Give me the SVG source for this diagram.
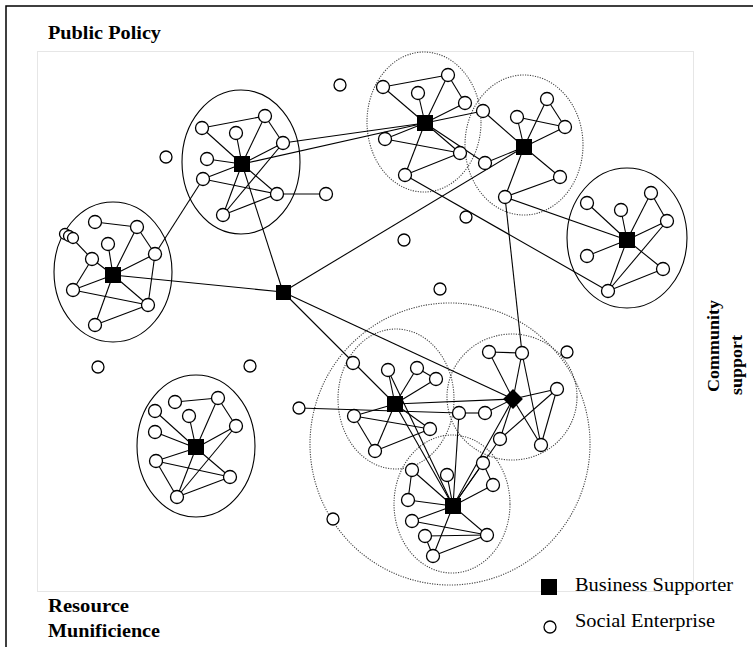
<svg xmlns="http://www.w3.org/2000/svg" width="753" height="647" viewBox="0 0 753 647">
<style>
.e line{stroke:#000;stroke-width:1.1}
.c circle{fill:#fff;stroke:#000;stroke-width:1.3}
.s rect{fill:#000}
.el{fill:none;stroke:#000;stroke-width:1.1}
.dl{fill:none;stroke:#444;stroke-width:1.1;stroke-dasharray:1.2 1.3}
.t{font-family:"Liberation Serif",serif;fill:#000}
.b{font-weight:bold}
</style>
<rect width="753" height="647" fill="#fff"/>
<path d="M6,647 V6 H753" fill="none" stroke="#000" stroke-width="1.5"/>
<rect x="37.5" y="51.5" width="656" height="540" fill="none" stroke="#ccc" stroke-width="1" stroke-dasharray="1 1"/>
<g id="boundaries">
<ellipse class="el" cx="113" cy="272" rx="59" ry="70"/>
<ellipse class="el" cx="241" cy="162" rx="59" ry="72"/>
<ellipse class="dl" cx="424" cy="122" rx="57" ry="70"/>
<ellipse class="dl" cx="524" cy="145" rx="59" ry="70"/>
<ellipse class="el" cx="627" cy="238" rx="60" ry="70"/>
<ellipse class="el" cx="196" cy="446" rx="59" ry="71"/>
<ellipse class="dl" cx="450" cy="444" rx="140" ry="141"/>
<ellipse class="dl" cx="396" cy="399" rx="58" ry="70"/>
<ellipse class="dl" cx="512" cy="397" rx="65" ry="63"/>
<ellipse class="dl" cx="452" cy="504" rx="58" ry="69"/>
</g>
<g id="connectors" class="e">
<!-- cluster A -->
<line x1="95" y1="222" x2="137" y2="227"/><line x1="137" y1="227" x2="155" y2="254"/><line x1="137" y1="227" x2="113" y2="275"/>
<line x1="108" y1="244" x2="113" y2="275"/><line x1="155" y1="254" x2="113" y2="275"/><line x1="92" y1="259" x2="113" y2="275"/>
<line x1="70" y1="236" x2="92" y2="259"/><line x1="92" y1="259" x2="73" y2="290"/><line x1="73" y1="290" x2="113" y2="275"/>
<line x1="73" y1="290" x2="148" y2="305"/><line x1="148" y1="305" x2="113" y2="275"/><line x1="148" y1="305" x2="155" y2="254"/>
<line x1="95" y1="325" x2="113" y2="275"/><line x1="95" y1="325" x2="148" y2="305"/>
<!-- cluster B -->
<line x1="202" y1="128" x2="265" y2="116"/><line x1="202" y1="128" x2="242" y2="164"/><line x1="265" y1="116" x2="242" y2="164"/>
<line x1="265" y1="116" x2="283" y2="143"/><line x1="236" y1="133" x2="242" y2="164"/><line x1="283" y1="143" x2="242" y2="164"/>
<line x1="207" y1="159" x2="242" y2="164"/><line x1="203" y1="179" x2="242" y2="164"/><line x1="203" y1="179" x2="277" y2="194"/>
<line x1="277" y1="194" x2="326" y2="194"/><line x1="277" y1="194" x2="242" y2="164"/><line x1="223" y1="215" x2="242" y2="164"/>
<line x1="223" y1="215" x2="277" y2="194"/><line x1="223" y1="215" x2="283" y2="143"/>
<!-- cluster C -->
<line x1="383" y1="87" x2="448" y2="75"/><line x1="383" y1="87" x2="425" y2="123"/><line x1="448" y1="75" x2="425" y2="123"/>
<line x1="448" y1="75" x2="465" y2="103"/><line x1="418" y1="93" x2="425" y2="123"/><line x1="465" y1="103" x2="425" y2="123"/>
<line x1="385" y1="139" x2="425" y2="123"/><line x1="385" y1="139" x2="460" y2="153"/><line x1="460" y1="153" x2="425" y2="123"/>
<line x1="405" y1="175" x2="425" y2="123"/><line x1="405" y1="175" x2="460" y2="153"/><line x1="425" y1="123" x2="483" y2="111"/>
<line x1="425" y1="123" x2="485" y2="163"/>
<!-- cluster D -->
<line x1="483" y1="111" x2="524" y2="147"/><line x1="547" y1="99" x2="565" y2="127"/><line x1="547" y1="99" x2="524" y2="147"/>
<line x1="517" y1="117" x2="524" y2="147"/><line x1="517" y1="117" x2="565" y2="127"/><line x1="565" y1="127" x2="524" y2="147"/>
<line x1="485" y1="163" x2="524" y2="147"/><line x1="560" y1="177" x2="524" y2="147"/><line x1="505" y1="197" x2="524" y2="147"/>
<line x1="505" y1="197" x2="560" y2="177"/>
<!-- cluster E -->
<line x1="587" y1="203" x2="627" y2="240"/><line x1="621" y1="210" x2="627" y2="240"/><line x1="651" y1="193" x2="627" y2="240"/>
<line x1="651" y1="193" x2="667" y2="221"/><line x1="667" y1="221" x2="627" y2="240"/><line x1="587" y1="256" x2="627" y2="240"/>
<line x1="663" y1="269" x2="627" y2="240"/><line x1="608" y1="291" x2="627" y2="240"/><line x1="608" y1="291" x2="663" y2="269"/>
<line x1="608" y1="291" x2="667" y2="221"/>
<!-- cluster I -->
<line x1="175" y1="402" x2="218" y2="398"/><line x1="218" y1="398" x2="236" y2="426"/><line x1="218" y1="398" x2="196" y2="448"/>
<line x1="155" y1="411" x2="196" y2="448"/><line x1="189" y1="416" x2="196" y2="448"/><line x1="236" y1="426" x2="196" y2="448"/>
<line x1="155" y1="432" x2="196" y2="448"/><line x1="156" y1="461" x2="196" y2="448"/><line x1="156" y1="461" x2="230" y2="477"/>
<line x1="156" y1="461" x2="177" y2="497"/><line x1="230" y1="477" x2="196" y2="448"/><line x1="177" y1="497" x2="196" y2="448"/>
<line x1="177" y1="497" x2="230" y2="477"/><line x1="177" y1="497" x2="236" y2="426"/>
<!-- cluster F -->
<line x1="388" y1="370" x2="395" y2="404"/><line x1="417" y1="368" x2="395" y2="404"/><line x1="417" y1="368" x2="436" y2="379"/>
<line x1="436" y1="379" x2="395" y2="404"/><line x1="354" y1="416" x2="395" y2="404"/><line x1="354" y1="416" x2="430" y2="429"/>
<line x1="430" y1="429" x2="395" y2="404"/><line x1="375" y1="451" x2="395" y2="404"/><line x1="375" y1="451" x2="430" y2="429"/>
<line x1="354" y1="416" x2="375" y2="451"/>
<!-- cluster G -->
<line x1="489" y1="352" x2="522" y2="353"/><line x1="489" y1="352" x2="513" y2="399"/><line x1="522" y1="353" x2="513" y2="399"/>
<line x1="522" y1="353" x2="541" y2="445"/><line x1="557" y1="389" x2="513" y2="399"/><line x1="557" y1="389" x2="500" y2="439"/>
<line x1="557" y1="389" x2="541" y2="445"/><line x1="485" y1="413" x2="513" y2="399"/><line x1="459" y1="413" x2="485" y2="413"/>
<line x1="500" y1="439" x2="513" y2="399"/><line x1="541" y1="445" x2="513" y2="399"/>
<!-- cluster H -->
<line x1="412" y1="470" x2="408" y2="500"/><line x1="412" y1="470" x2="453" y2="506"/><line x1="447" y1="475" x2="453" y2="506"/>
<line x1="483" y1="463" x2="493" y2="485"/><line x1="483" y1="463" x2="453" y2="506"/><line x1="493" y1="485" x2="453" y2="506"/>
<line x1="408" y1="500" x2="453" y2="506"/><line x1="412" y1="521" x2="453" y2="506"/><line x1="412" y1="521" x2="487" y2="535"/>
<line x1="425" y1="536" x2="487" y2="535"/><line x1="425" y1="536" x2="433" y2="556"/><line x1="433" y1="556" x2="453" y2="506"/>
<line x1="433" y1="556" x2="487" y2="535"/><line x1="487" y1="535" x2="453" y2="506"/>
<!-- inter-cluster -->
<line x1="113" y1="275" x2="283" y2="292"/><line x1="155" y1="254" x2="203" y2="179"/><line x1="242" y1="164" x2="283" y2="292"/>
<line x1="242" y1="164" x2="425" y2="123"/><line x1="283" y1="143" x2="425" y2="123"/><line x1="283" y1="292" x2="524" y2="147"/>
<line x1="283" y1="292" x2="395" y2="404"/><line x1="283" y1="292" x2="513" y2="399"/><line x1="405" y1="175" x2="608" y2="291"/>
<line x1="505" y1="197" x2="627" y2="240"/><line x1="505" y1="197" x2="522" y2="353"/><line x1="395" y1="404" x2="513" y2="399"/>
<line x1="395" y1="404" x2="453" y2="506"/><line x1="388" y1="370" x2="453" y2="506"/><line x1="513" y1="399" x2="453" y2="506"/>
<line x1="459" y1="413" x2="453" y2="506"/><line x1="500" y1="439" x2="453" y2="506"/><line x1="299" y1="408" x2="459" y2="413"/>
</g>
<g id="nodes">
<g id="A" class="s"><rect x="105" y="267" width="16" height="16"/></g>
<g id="B" class="s"><rect x="234" y="156" width="16" height="16"/></g>
<g id="C" class="s"><rect x="417" y="115" width="16" height="16"/></g>
<g id="D" class="s"><rect x="516" y="139" width="16" height="16"/></g>
<g id="E" class="s"><rect x="619" y="232" width="16" height="16"/></g>
<g id="X" class="s"><rect x="276" y="285" width="15" height="15"/></g>
<g id="F" class="s"><rect x="387" y="396" width="16" height="16"/></g>
<g id="G" class="s"><rect x="506" y="392" width="14" height="14" transform="rotate(45 513 399)"/></g>
<g id="H" class="s"><rect x="445" y="498" width="16" height="16"/></g>
<g id="I" class="s"><rect x="188" y="439" width="16" height="16"/></g>
<g class="c">
<g id="a1"><circle cx="95" cy="222" r="6.5"/></g><g id="a2"><circle cx="137" cy="227" r="6.5"/></g><g id="a3"><circle cx="108" cy="244" r="6.5"/></g>
<g id="a4"><circle cx="155" cy="254" r="6.5"/></g><g id="a5"><circle cx="92" cy="259" r="6.5"/></g><g id="a6"><circle cx="73" cy="290" r="6.5"/></g>
<g id="a7"><circle cx="148" cy="305" r="6.5"/></g><g id="a8"><circle cx="95" cy="325" r="6.5"/></g>
<g id="a9"><circle cx="65" cy="234" r="5.5"/></g><g id="a10"><circle cx="69" cy="236" r="5.5"/></g><g id="a11"><circle cx="73" cy="238" r="5.5"/></g>
<g id="b1"><circle cx="202" cy="128" r="6.5"/></g><g id="b2"><circle cx="265" cy="116" r="6.5"/></g><g id="b3"><circle cx="236" cy="133" r="6.5"/></g>
<g id="b4"><circle cx="283" cy="143" r="6.5"/></g><g id="b5"><circle cx="207" cy="159" r="6.5"/></g><g id="b6"><circle cx="203" cy="179" r="6.5"/></g>
<g id="b7"><circle cx="277" cy="194" r="6.5"/></g><g id="b8"><circle cx="326" cy="194" r="6.5"/></g><g id="b9"><circle cx="223" cy="215" r="6.5"/></g>
<g id="c1"><circle cx="383" cy="87" r="6.5"/></g><g id="c2"><circle cx="448" cy="75" r="6.5"/></g><g id="c3"><circle cx="418" cy="93" r="6.5"/></g>
<g id="c4"><circle cx="465" cy="103" r="6.5"/></g><g id="c5"><circle cx="483" cy="111" r="6.5"/></g><g id="c6"><circle cx="385" cy="139" r="6.5"/></g>
<g id="c7"><circle cx="460" cy="153" r="6.5"/></g><g id="c8"><circle cx="485" cy="163" r="6.5"/></g><g id="c9"><circle cx="405" cy="175" r="6.5"/></g>
<g id="d1"><circle cx="547" cy="99" r="6.5"/></g><g id="d2"><circle cx="517" cy="117" r="6.5"/></g><g id="d3"><circle cx="565" cy="127" r="6.5"/></g>
<g id="d7"><circle cx="560" cy="177" r="6.5"/></g><g id="d8"><circle cx="505" cy="197" r="6.5"/></g>
<g id="e1"><circle cx="587" cy="203" r="6.5"/></g><g id="e2"><circle cx="621" cy="210" r="6.5"/></g><g id="e3"><circle cx="651" cy="193" r="6.5"/></g>
<g id="e4"><circle cx="667" cy="221" r="6.5"/></g><g id="e5"><circle cx="587" cy="256" r="6.5"/></g><g id="e6"><circle cx="663" cy="269" r="6.5"/></g>
<g id="e7"><circle cx="608" cy="291" r="6.5"/></g>
<g id="i1"><circle cx="175" cy="402" r="6.5"/></g><g id="i2"><circle cx="218" cy="398" r="6.5"/></g><g id="i3"><circle cx="155" cy="411" r="6.5"/></g>
<g id="i4"><circle cx="189" cy="416" r="6.5"/></g><g id="i5"><circle cx="236" cy="426" r="6.5"/></g><g id="i6"><circle cx="155" cy="432" r="6.5"/></g>
<g id="i7"><circle cx="156" cy="461" r="6.5"/></g><g id="i8"><circle cx="230" cy="477" r="6.5"/></g><g id="i9"><circle cx="177" cy="497" r="6.5"/></g>
<g id="f1"><circle cx="353" cy="363" r="6.5"/></g><g id="f2"><circle cx="388" cy="370" r="6.5"/></g><g id="f3"><circle cx="417" cy="368" r="6.5"/></g>
<g id="f4"><circle cx="436" cy="379" r="6.5"/></g><g id="f5"><circle cx="354" cy="416" r="6.5"/></g><g id="f6"><circle cx="430" cy="429" r="6.5"/></g>
<g id="f7"><circle cx="375" cy="451" r="6.5"/></g>
<g id="g1"><circle cx="489" cy="352" r="6.5"/></g><g id="g2"><circle cx="522" cy="353" r="6.5"/></g><g id="g3"><circle cx="557" cy="389" r="6.5"/></g>
<g id="g4"><circle cx="459" cy="413" r="6.5"/></g><g id="g5"><circle cx="485" cy="413" r="6.5"/></g><g id="g6"><circle cx="500" cy="439" r="6.5"/></g>
<g id="g7"><circle cx="541" cy="445" r="6.5"/></g>
<g id="h1"><circle cx="412" cy="470" r="6.5"/></g><g id="h2"><circle cx="447" cy="475" r="6.5"/></g><g id="h3"><circle cx="483" cy="463" r="6.5"/></g>
<g id="h4"><circle cx="493" cy="485" r="6.5"/></g><g id="h5"><circle cx="408" cy="500" r="6.5"/></g><g id="h6"><circle cx="412" cy="521" r="6.5"/></g>
<g id="h7"><circle cx="425" cy="536" r="6.5"/></g><g id="h8"><circle cx="487" cy="535" r="6.5"/></g><g id="h9"><circle cx="433" cy="556" r="6.5"/></g>
<g id="o1"><circle cx="340" cy="85" r="6"/></g><g id="o2"><circle cx="166" cy="157" r="6"/></g><g id="o3"><circle cx="404" cy="240" r="6"/></g>
<g id="o4"><circle cx="466" cy="217" r="6"/></g><g id="o5"><circle cx="440" cy="289" r="6"/></g><g id="o6"><circle cx="567" cy="352" r="6"/></g>
<g id="o7"><circle cx="98" cy="367" r="6"/></g><g id="o8"><circle cx="250" cy="366" r="6"/></g><g id="o9"><circle cx="299" cy="408" r="6"/></g>
<g id="o10"><circle cx="333" cy="519" r="6"/></g>
</g>
</g>
<g id="labels">
<text class="t b" x="48" y="39" font-size="18" textLength="113" lengthAdjust="spacingAndGlyphs">Public Policy</text>
<text class="t b" x="48" y="612" font-size="18" textLength="81" lengthAdjust="spacingAndGlyphs">Resource</text>
<text class="t b" x="48" y="637" font-size="18" textLength="112" lengthAdjust="spacingAndGlyphs">Munificience</text>
<text class="t b" font-size="17" transform="translate(719,392) rotate(-90)" textLength="92" lengthAdjust="spacingAndGlyphs">Community</text>
<text class="t b" font-size="17" transform="translate(742,395) rotate(-90)" textLength="60" lengthAdjust="spacingAndGlyphs">support</text>
</g>
<g id="legend">
<g id="legend-bs"><rect x="541" y="579" width="16" height="16" fill="#000"/><text class="t" x="575" y="591" font-size="18" textLength="158" lengthAdjust="spacingAndGlyphs">Business Supporter</text></g>
<g id="legend-se"><circle cx="550" cy="627" r="6" fill="#fff" stroke="#000" stroke-width="1.3"/><text class="t" x="575" y="627" font-size="18" textLength="140" lengthAdjust="spacingAndGlyphs">Social Enterprise</text></g>
</g>
</svg>
